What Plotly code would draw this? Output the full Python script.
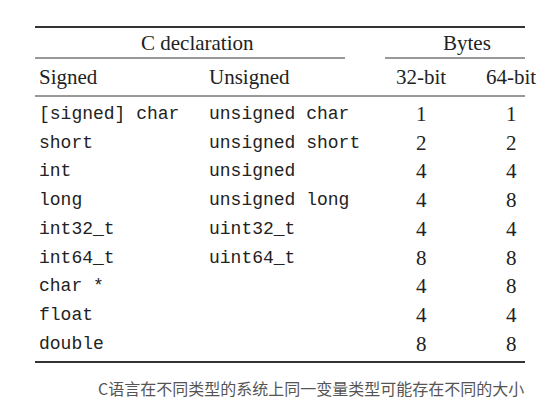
import plotly.graph_objects as go

signed = ["[signed] char", "short", "int", "long", "int32_t", "int64_t", "char *", "float", "double"]
unsigned = ["unsigned char", "unsigned short", "unsigned", "unsigned long", "uint32_t", "uint64_t", "", "", ""]
bytes32 = [1, 2, 4, 4, 4, 8, 4, 4, 8]
bytes64 = [1, 2, 4, 8, 4, 8, 8, 4, 8]
caption = "C语言在不同类型的系统上同一变量类型可能存在不同的大小"

SERIF = "Liberation Serif, DejaVu Serif, serif"
MONO = "Liberation Mono, DejaVu Sans Mono, monospace"
DX, DY = -8, -8  # page offset correction

fig = go.Figure()


def txt(x, y, s, font, size, anchor="left", color="#222"):
    fig.add_annotation(x=x + DX, y=y + DY, text=s, showarrow=False, xanchor=anchor, yanchor="middle",
                       font=dict(family=font, size=size, color=color))


def rule(x0, x1, y, w=1.5):
    fig.add_shape(type="line", x0=x0 + DX, x1=x1 + DX, y0=y + DY, y1=y + DY, line=dict(color="#333", width=w))


rule(35, 525, 27, 2)
txt(197, 43, "C declaration", SERIF, 21, "center")
txt(467, 43, "Bytes", SERIF, 21, "center")
rule(35, 345, 58, 1)
rule(385, 525, 58, 1)
txt(37, 77, "Signed", SERIF, 21)
txt(207, 77, "Unsigned", SERIF, 21)
txt(421, 77, "32-bit", SERIF, 21, "center")
txt(511, 77, "64-bit", SERIF, 21, "center")
rule(35, 525, 96, 1)

for i in range(len(signed)):
    y = 114 + i * 28.7
    txt(37, y, signed[i], MONO, 18)
    txt(207, y, unsigned[i], MONO, 18)
    txt(421, y, str(bytes32[i]), SERIF, 21, "center")
    txt(511, y, str(bytes64[i]), SERIF, 21, "center")

rule(35, 525, 362, 2)
txt(311, 388, caption, "Noto Sans CJK SC", 16, "center", "#555")

fig.update_xaxes(range=[0, 560], visible=False)
fig.update_yaxes(range=[411, 0], visible=False)
fig.update_layout(width=560, height=411, margin=dict(l=0, r=0, t=0, b=0),
                  plot_bgcolor="white", paper_bgcolor="white", showlegend=False)
fig.write_html("out.html")
